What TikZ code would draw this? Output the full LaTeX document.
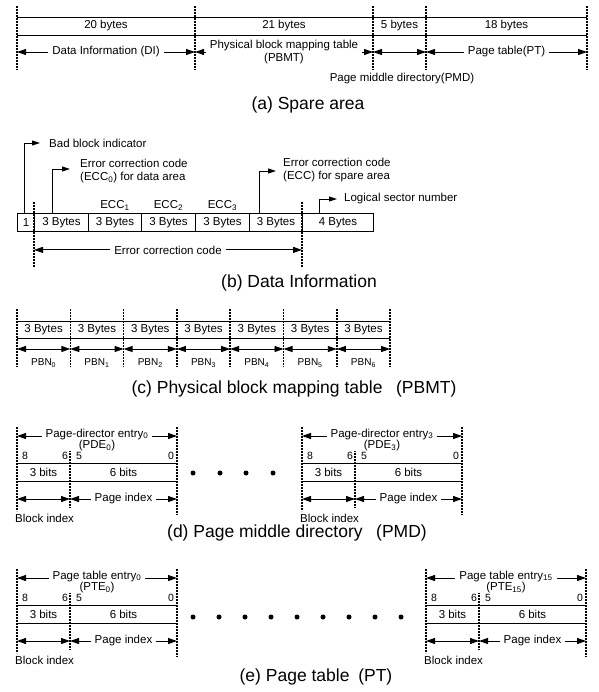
\documentclass[tikz,border=0pt]{standalone}
\usepackage{fontspec}
\setmainfont{Liberation Sans}
\usetikzlibrary{arrows.meta}
\tikzset{
  fld/.style={line width=0.9pt},
  sep/.style={line width=1.6pt, dash pattern=on 2pt off 1pt},
  span/.style={{Triangle[length=9pt,width=6pt]}-{Triangle[length=9pt,width=6pt]}, line width=0.9pt},
  ptr/.style={-{Triangle[length=8pt,width=5pt]}, line width=0.9pt},
  txt/.style={font=\fontsize{11.5}{12.5}\selectfont, inner sep=0pt},
  gap/.style={txt, fill=white, inner xsep=4pt, inner ysep=1pt},
  cell/.style={txt, draw, line width=0.9pt, minimum height=18, anchor=north west},
  bitno/.style={font=\fontsize{10.5}{12}\selectfont, inner sep=0pt},
  pbn/.style={font=\fontsize{10}{11}\selectfont, inner sep=0pt},
  capt/.style={font=\fontsize{17.5}{20}\selectfont, inner sep=0pt},
  dot/.style={circle, fill, inner sep=0pt, minimum size=5pt},
}
\begin{document}
\begin{tikzpicture}[x=1pt,y=-1pt]
  \useasboundingbox (0,0) rectangle (598,692);
  % (a) spare area
  \foreach \x [count=\i] in {17,195,373,426,587} {
    \draw[sep] (\x,6) -- (\x,70);
    \coordinate (a\i) at (\x,52);
  }
  \draw[fld] (17,17) -- (587,17) (17,35) -- (587,35);
  \foreach \x/\t [count=\i] in {106/20 bytes,284/21 bytes,399.5/5 bytes,506.5/18 bytes}
    \node[txt] (sz\i) at (\x,26) {\t};
  \draw[span] (a1) -- (a2);
  \node[gap] (di) at (106,52) {Data Information (DI)};
  \draw[span] (a2) -- node[gap, align=center] (pbmt) {Physical block mapping table\\(PBMT)} (a3);
  \draw[span] (a3) -- (a4);
  \draw[span] (a4) -- node[gap] (pt) {Page table(PT)} (a5);
  \node[txt] (pmd) at (402,79) {Page middle directory(PMD)};
  \node[capt] (capa) at (308,105) {(a) Spare area};
  % (b) data information
  \foreach \x/\w/\t [count=\i] in {17/17/1,34/54/3 Bytes,88/53/3 Bytes,141/54/3 Bytes,
      195/54/3 Bytes,249/53/3 Bytes,302/71/4 Bytes}
    \node[cell, minimum width=\w] (c\i) at (\x,213) {\t};
  \draw[sep] (c2.north west) ++(0,-11) -- ++(0,65);
  \draw[sep] (c7.north west) ++(0,-11) -- ++(0,65);
  \foreach \i/\k in {3/1,4/2,5/3}
    \node[txt, anchor=base] (ecc\k) at ([yshift=4pt]c\i.north) {ECC\textsubscript{\k}};
  \node[txt, anchor=west] (bbi) at (49,143) {Bad block indicator};
  \node[txt, anchor=west, align=left] (eccd) at (80,171) {Error correction code\\(ECC\textsubscript{0}) for data area};
  \node[txt, anchor=west, align=left] (eccs) at (283,170) {Error correction code\\(ECC) for spare area};
  \node[txt, anchor=west] (lsn) at (344,199) {Logical sector number};
  \draw[ptr] ([xshift=7pt]c1.north west) |- ([xshift=-9pt]bbi.west);
  \draw[ptr] ([xshift=18pt]c2.north west) |- ([xshift=-10pt,yshift=2pt]eccd.west);
  \draw[ptr] ([xshift=10pt]c6.north west) |- ([xshift=-7pt,yshift=-1pt]eccs.west);
  \draw[ptr] ([xshift=17pt]c7.north west) |- ([xshift=-7pt]lsn.west);
  \draw[span] ([yshift=-18pt]c2.south west) -- node[gap] (ecc) {Error correction code} ([yshift=-18pt]c7.south west);
  \node[capt] (capb) at (299,283) {(b) Data Information};
  % (c) physical block mapping table
  \foreach \i in {0,...,7} {
    \coordinate (p\i) at ({17+53.3*\i},349);
    \draw[sep] (p\i) ++(0,-40) -- ++(0,58);
  }
  \draw[fld] (17,321) -- (390,321) (17,338) -- (390,338);
  \foreach \i [count=\j] in {0,...,6}
    \draw[span] (p\i) -- node[pbn, yshift=-14pt] (pbn\i) {PBN\textsubscript{\i}}
      node[txt, yshift=19pt] (by\i) {3 Bytes} (p\j);
  \node[capt] (capc) at (294,389) {(c) Physical block mapping table\enspace\ (PBMT)};
  % (d) and (e) entries
  \foreach \x/\y/\t/\s/\k in {17/427/Page-director entry/PDE/0,302/427/Page-director entry/PDE/3,
      17/569/Page table entry/PTE/0,426/569/Page table entry/PTE/15} {
    \begin{scope}[shift={(\x,\y)}]
      \draw[sep] (0,0) -- (0,84);
      \draw[sep] (160,0) -- (160,88);
      \draw[sep] (53,23) -- (53,81);
      \draw[fld] (0,36) -- (160,36) (0,54) -- (160,54);
      \coordinate (\s\k-tl) at (0,9);
      \coordinate (\s\k-tr) at (160,9);
      \coordinate (\s\k-l) at (0,72);
      \coordinate (\s\k-m) at (53,72);
      \coordinate (\s\k-r) at (160,72);
      \draw[span] (\s\k-tl) -- (\s\k-tr);
      \node[gap, inner ysep=0pt, align=center, font=\fontsize{11.5}{9.5}\selectfont]
        (\s\k-name) at (80,13) {\t\textsubscript{\k}\\(\s\textsubscript{\k})};
      \foreach \b/\bx in {8/8,6/48,5/62,0/154}
        \node[bitno] (\s\k-b\b) at (\bx,28.5) {\b};
      \node[txt] (\s\k-blk) at (26.5,45) {3 bits};
      \node[txt] (\s\k-pg) at (106.5,45) {6 bits};
      \draw[span] (\s\k-l) -- (\s\k-m);
      \draw[span] (\s\k-m) -- node[gap] (\s\k-pix) {Page index} (\s\k-r);
      \node[txt, anchor=west] (\s\k-bix) at (-2,91) {Block index};
    \end{scope}
  }
  \foreach \x [count=\i] in {193,220,246,273}
    \node[dot] (dd\i) at (\x,473) {};
  \foreach \k in {0,...,8}
    \node[dot] (de\k) at ({193+26*\k},617) {};
  \node[capt] (capd) at (297,533) {(d) Page middle directory\enspace\ (PMD)};
  \node[capt] (cape) at (316,677) {(e) Page table\enspace(PT)};
\end{tikzpicture}
\end{document}
